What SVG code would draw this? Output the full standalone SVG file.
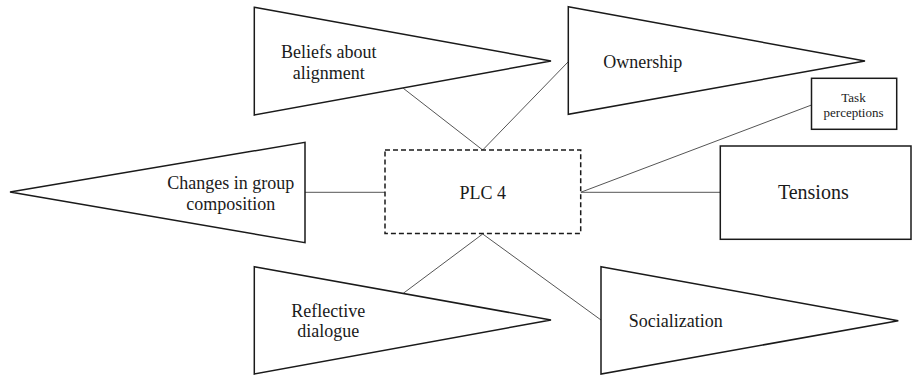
<svg xmlns="http://www.w3.org/2000/svg" width="912" height="376" viewBox="0 0 912 376" font-family="'Liberation Serif', 'Times New Roman', Times, serif">
<style>
.shape{fill:#fff;stroke:#1a1a1a;stroke-width:1.5;stroke-linejoin:miter}
.dash{fill:#fff;stroke:#1a1a1a;stroke-width:1.5;stroke-dasharray:5 3}
.conn{stroke:#555;stroke-width:1;fill:none}
text{fill:#1a1a1a;font-size:18px;text-anchor:middle}
.small{font-size:13px}
.big{font-size:20px}
</style>
<rect width="912" height="376" fill="#fff"/>
<g id="connectors">
<line class="conn" x1="403.3" y1="88.3" x2="482.7" y2="150"/>
<line class="conn" x1="482.7" y1="150" x2="568.3" y2="61.7"/>
<line class="conn" x1="580.7" y1="192.3" x2="811.5" y2="105"/>
<line class="conn" x1="580.7" y1="192.3" x2="720" y2="192.3"/>
<line class="conn" x1="305" y1="192.3" x2="385" y2="192.3"/>
<line class="conn" x1="482.7" y1="234" x2="403.3" y2="293.3"/>
<line class="conn" x1="482.7" y1="234" x2="601" y2="320"/>
</g>
<g id="beliefs">
<polygon class="shape" points="254.3,7.3 551,61 254.3,115"/>
<text x="328.8" y="58.3">Beliefs about</text>
<text x="328.8" y="78.5">alignment</text>
</g>
<g id="ownership">
<polygon class="shape" points="568.3,6.7 865,61 568.3,114.3"/>
<text x="642.8" y="68.3">Ownership</text>
</g>
<g id="task">
<rect class="shape" x="811.5" y="78.3" width="85.2" height="51"/>
<text class="small" x="853.5" y="101.7">Task</text>
<text class="small" x="853.5" y="116.5">perceptions</text>
</g>
<g id="plc4">
<rect class="dash" x="385" y="150" width="195.7" height="83.5"/>
<text x="482.7" y="199.3">PLC 4</text>
</g>
<g id="tensions">
<rect class="shape" x="720.3" y="146" width="190.7" height="93.3"/>
<text class="big" x="813.3" y="199.3">Tensions</text>
</g>
<g id="changes">
<polygon class="shape" points="10,192 305,142.3 305,242.7"/>
<text x="230.8" y="189.3">Changes in group</text>
<text x="230.8" y="209.5">composition</text>
</g>
<g id="reflective">
<polygon class="shape" points="254.3,266.7 551,320 254.3,374"/>
<text x="328.3" y="316.7">Reflective</text>
<text x="328.3" y="336.7">dialogue</text>
</g>
<g id="socialization">
<polygon class="shape" points="601,266.7 898.3,320.7 601,374"/>
<text x="675.8" y="326.7">Socialization</text>
</g>
</svg>
